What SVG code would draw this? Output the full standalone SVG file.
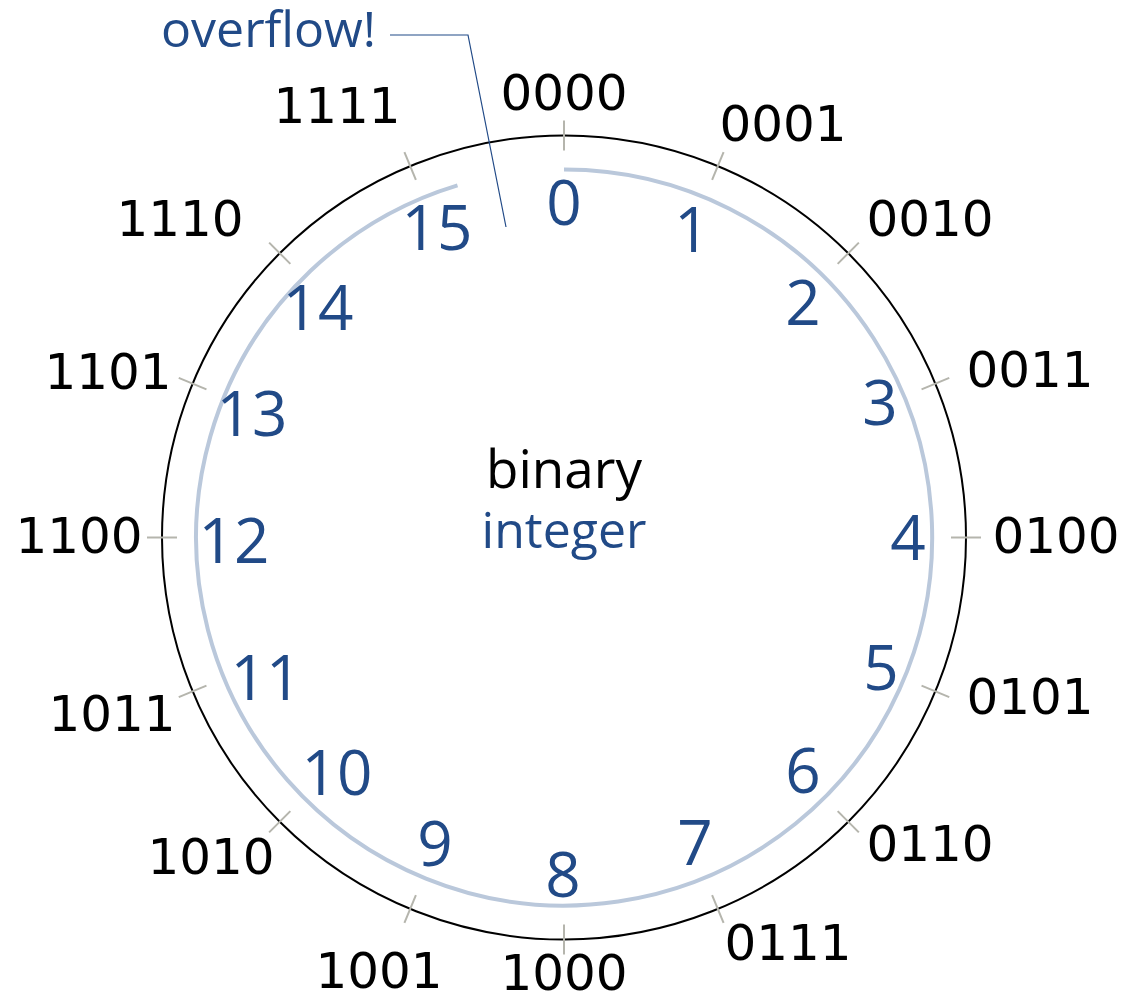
<svg xmlns="http://www.w3.org/2000/svg" width="1127" height="1001" viewBox="0 0 1127 1001">
<style>
.bin{font-family:"DejaVu Sans",sans-serif;font-size:50px;fill:#000;text-anchor:middle}
.num{font-family:"Open Sans",sans-serif;font-size:62px;fill:#214a87;text-anchor:middle}
.tick{stroke:#b5b5ad;stroke-width:2}
</style>
<rect width="1127" height="1001" fill="#fff"/>
<g id="ring">
<circle cx="564" cy="537.5" r="402" fill="none" stroke="#000" stroke-width="2"/>
<path d="M564,169.5 A368,368 0 1 1 457.5,185.3" fill="none" stroke="#bac8db" stroke-width="4"/>
</g>
<g id="ticks">
<line class="tick" x1="564" y1="120.5" x2="564" y2="150.5" transform="rotate(0 564 537.5)"/>
<line class="tick" x1="564" y1="120.5" x2="564" y2="150.5" transform="rotate(22.5 564 537.5)"/>
<line class="tick" x1="564" y1="120.5" x2="564" y2="150.5" transform="rotate(45 564 537.5)"/>
<line class="tick" x1="564" y1="120.5" x2="564" y2="150.5" transform="rotate(67.5 564 537.5)"/>
<line class="tick" x1="564" y1="120.5" x2="564" y2="150.5" transform="rotate(90 564 537.5)"/>
<line class="tick" x1="564" y1="120.5" x2="564" y2="150.5" transform="rotate(112.5 564 537.5)"/>
<line class="tick" x1="564" y1="120.5" x2="564" y2="150.5" transform="rotate(135 564 537.5)"/>
<line class="tick" x1="564" y1="120.5" x2="564" y2="150.5" transform="rotate(157.5 564 537.5)"/>
<line class="tick" x1="564" y1="120.5" x2="564" y2="150.5" transform="rotate(180 564 537.5)"/>
<line class="tick" x1="564" y1="120.5" x2="564" y2="150.5" transform="rotate(202.5 564 537.5)"/>
<line class="tick" x1="564" y1="120.5" x2="564" y2="150.5" transform="rotate(225 564 537.5)"/>
<line class="tick" x1="564" y1="120.5" x2="564" y2="150.5" transform="rotate(247.5 564 537.5)"/>
<line class="tick" x1="564" y1="120.5" x2="564" y2="150.5" transform="rotate(270 564 537.5)"/>
<line class="tick" x1="564" y1="120.5" x2="564" y2="150.5" transform="rotate(292.5 564 537.5)"/>
<line class="tick" x1="564" y1="120.5" x2="564" y2="150.5" transform="rotate(315 564 537.5)"/>
<line class="tick" x1="564" y1="120.5" x2="564" y2="150.5" transform="rotate(337.5 564 537.5)"/>
</g>
<g id="binary-labels">
<text class="bin" x="564" y="110">0000</text>
<text class="bin" x="783" y="141">0001</text>
<text class="bin" x="930" y="236">0010</text>
<text class="bin" x="1030" y="387">0011</text>
<text class="bin" x="1056" y="553">0100</text>
<text class="bin" x="1030" y="714">0101</text>
<text class="bin" x="930" y="861">0110</text>
<text class="bin" x="788" y="960">0111</text>
<text class="bin" x="564" y="990">1000</text>
<text class="bin" x="379" y="988">1001</text>
<text class="bin" x="211" y="874">1010</text>
<text class="bin" x="112" y="731">1011</text>
<text class="bin" x="79" y="553">1100</text>
<text class="bin" x="108" y="389">1101</text>
<text class="bin" x="180" y="236">1110</text>
<text class="bin" x="337" y="123">1111</text>
</g>
<g id="integer-labels">
<text class="num" x="564" y="225">0</text>
<text class="num" x="692" y="252">1</text>
<text class="num" x="803" y="325">2</text>
<text class="num" x="880" y="425">3</text>
<text class="num" x="908" y="560">4</text>
<text class="num" x="881" y="690">5</text>
<text class="num" x="803" y="793">6</text>
<text class="num" x="695" y="865">7</text>
<text class="num" x="563" y="897">8</text>
<text class="num" x="435" y="866">9</text>
<text class="num" x="337" y="795">10</text>
<text class="num" x="266" y="700">11</text>
<text class="num" x="234" y="563">12</text>
<text class="num" x="252" y="436">13</text>
<text class="num" x="318" y="330">14</text>
<text class="num" x="437" y="250">15</text>
</g>
<g id="center-label">
<text x="564" y="488" font-family="Open Sans, sans-serif" font-size="53" fill="#000" text-anchor="middle">binary</text>
<text x="564" y="548" font-family="Open Sans, sans-serif" font-size="50" fill="#214a87" text-anchor="middle">integer</text>
</g>
<g id="overflow">
<text x="161" y="47" font-family="Open Sans, sans-serif" font-size="50" fill="#214a87">overflow!</text>
</g>
<g id="connectors">
<polyline points="390,35 468,35 506,227" fill="none" stroke="#214a87" stroke-width="1.2"/>
</g>
</svg>
